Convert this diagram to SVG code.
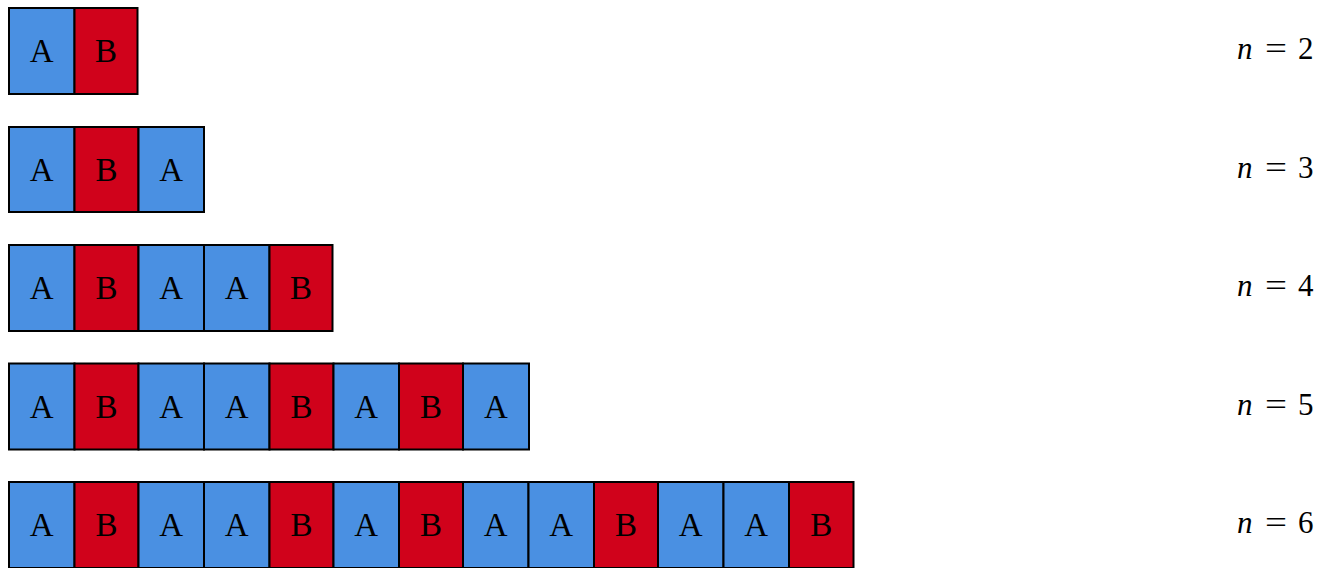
<svg xmlns="http://www.w3.org/2000/svg" width="1331" height="568" viewBox="0 0 1331 568">
<style>
.a{fill:#4A90E2;stroke:#000;stroke-width:2}
.b{fill:#D0021B;stroke:#000;stroke-width:2}
.t{font-family:"Liberation Serif","DejaVu Serif",serif;font-size:33px;fill:#000;text-anchor:middle}
.n{font-family:"Liberation Serif","DejaVu Serif",serif;font-size:31px;fill:#000}
</style>
<rect width="1331" height="568" fill="#fff"/>
<g id="row2">
<rect class="a" x="9" y="8" width="65.5" height="86"/><text class="t" x="41.7" y="62">A</text>
<rect class="b" x="74.5" y="8" width="63" height="86"/><text class="t" x="106" y="62">B</text>
</g>
<g id="row3">
<rect class="a" x="9" y="127" width="65.5" height="85"/><text class="t" x="41.7" y="180.5">A</text>
<rect class="b" x="74.5" y="127" width="64" height="85"/><text class="t" x="106.5" y="180.5">B</text>
<rect class="a" x="138.5" y="127" width="65.5" height="85"/><text class="t" x="171.2" y="180.5">A</text>
</g>
<g id="row4">
<rect class="a" x="9" y="245" width="65.5" height="86"/><text class="t" x="41.7" y="299">A</text>
<rect class="b" x="74.5" y="245" width="64" height="86"/><text class="t" x="106.5" y="299">B</text>
<rect class="a" x="138.5" y="245" width="65.5" height="86"/><text class="t" x="171.2" y="299">A</text>
<rect class="a" x="204" y="245" width="65.5" height="86"/><text class="t" x="236.7" y="299">A</text>
<rect class="b" x="269.5" y="245" width="63" height="86"/><text class="t" x="301" y="299">B</text>
</g>
<g id="row5">
<rect class="a" x="9" y="363.5" width="65.5" height="86"/><text class="t" x="41.7" y="417.5">A</text>
<rect class="b" x="74.5" y="363.5" width="64" height="86"/><text class="t" x="106.5" y="417.5">B</text>
<rect class="a" x="138.5" y="363.5" width="65.5" height="86"/><text class="t" x="171.2" y="417.5">A</text>
<rect class="a" x="204" y="363.5" width="65.5" height="86"/><text class="t" x="236.7" y="417.5">A</text>
<rect class="b" x="269.5" y="363.5" width="64" height="86"/><text class="t" x="301.5" y="417.5">B</text>
<rect class="a" x="333.5" y="363.5" width="65.5" height="86"/><text class="t" x="366.2" y="417.5">A</text>
<rect class="b" x="399" y="363.5" width="64" height="86"/><text class="t" x="431" y="417.5">B</text>
<rect class="a" x="463" y="363.5" width="66" height="86"/><text class="t" x="496" y="417.5">A</text>
</g>
<g id="row6">
<rect class="a" x="9" y="482" width="65.5" height="86"/><text class="t" x="41.7" y="536">A</text>
<rect class="b" x="74.5" y="482" width="64" height="86"/><text class="t" x="106.5" y="536">B</text>
<rect class="a" x="138.5" y="482" width="65.5" height="86"/><text class="t" x="171.2" y="536">A</text>
<rect class="a" x="204" y="482" width="65.5" height="86"/><text class="t" x="236.7" y="536">A</text>
<rect class="b" x="269.5" y="482" width="64" height="86"/><text class="t" x="301.5" y="536">B</text>
<rect class="a" x="333.5" y="482" width="65.5" height="86"/><text class="t" x="366.2" y="536">A</text>
<rect class="b" x="399" y="482" width="64" height="86"/><text class="t" x="431" y="536">B</text>
<rect class="a" x="463" y="482" width="65.5" height="86"/><text class="t" x="495.7" y="536">A</text>
<rect class="a" x="528.5" y="482" width="65.5" height="86"/><text class="t" x="561.2" y="536">A</text>
<rect class="b" x="594" y="482" width="64" height="86"/><text class="t" x="626" y="536">B</text>
<rect class="a" x="658" y="482" width="65.5" height="86"/><text class="t" x="690.7" y="536">A</text>
<rect class="a" x="723.5" y="482" width="65.5" height="86"/><text class="t" x="756.2" y="536">A</text>
<rect class="b" x="789" y="482" width="64.5" height="86"/><text class="t" x="821.2" y="536">B</text>
</g>
<g id="labels">
<text class="n" y="59"><tspan x="1237" font-style="italic">n</tspan><tspan x="1265" textLength="22" lengthAdjust="spacingAndGlyphs">=</tspan><tspan x="1298">2</tspan></text>
<text class="n" y="178"><tspan x="1237" font-style="italic">n</tspan><tspan x="1265" textLength="22" lengthAdjust="spacingAndGlyphs">=</tspan><tspan x="1298">3</tspan></text>
<text class="n" y="296"><tspan x="1237" font-style="italic">n</tspan><tspan x="1265" textLength="22" lengthAdjust="spacingAndGlyphs">=</tspan><tspan x="1298">4</tspan></text>
<text class="n" y="415"><tspan x="1237" font-style="italic">n</tspan><tspan x="1265" textLength="22" lengthAdjust="spacingAndGlyphs">=</tspan><tspan x="1298">5</tspan></text>
<text class="n" y="533"><tspan x="1237" font-style="italic">n</tspan><tspan x="1265" textLength="22" lengthAdjust="spacingAndGlyphs">=</tspan><tspan x="1298">6</tspan></text>
</g>
</svg>
